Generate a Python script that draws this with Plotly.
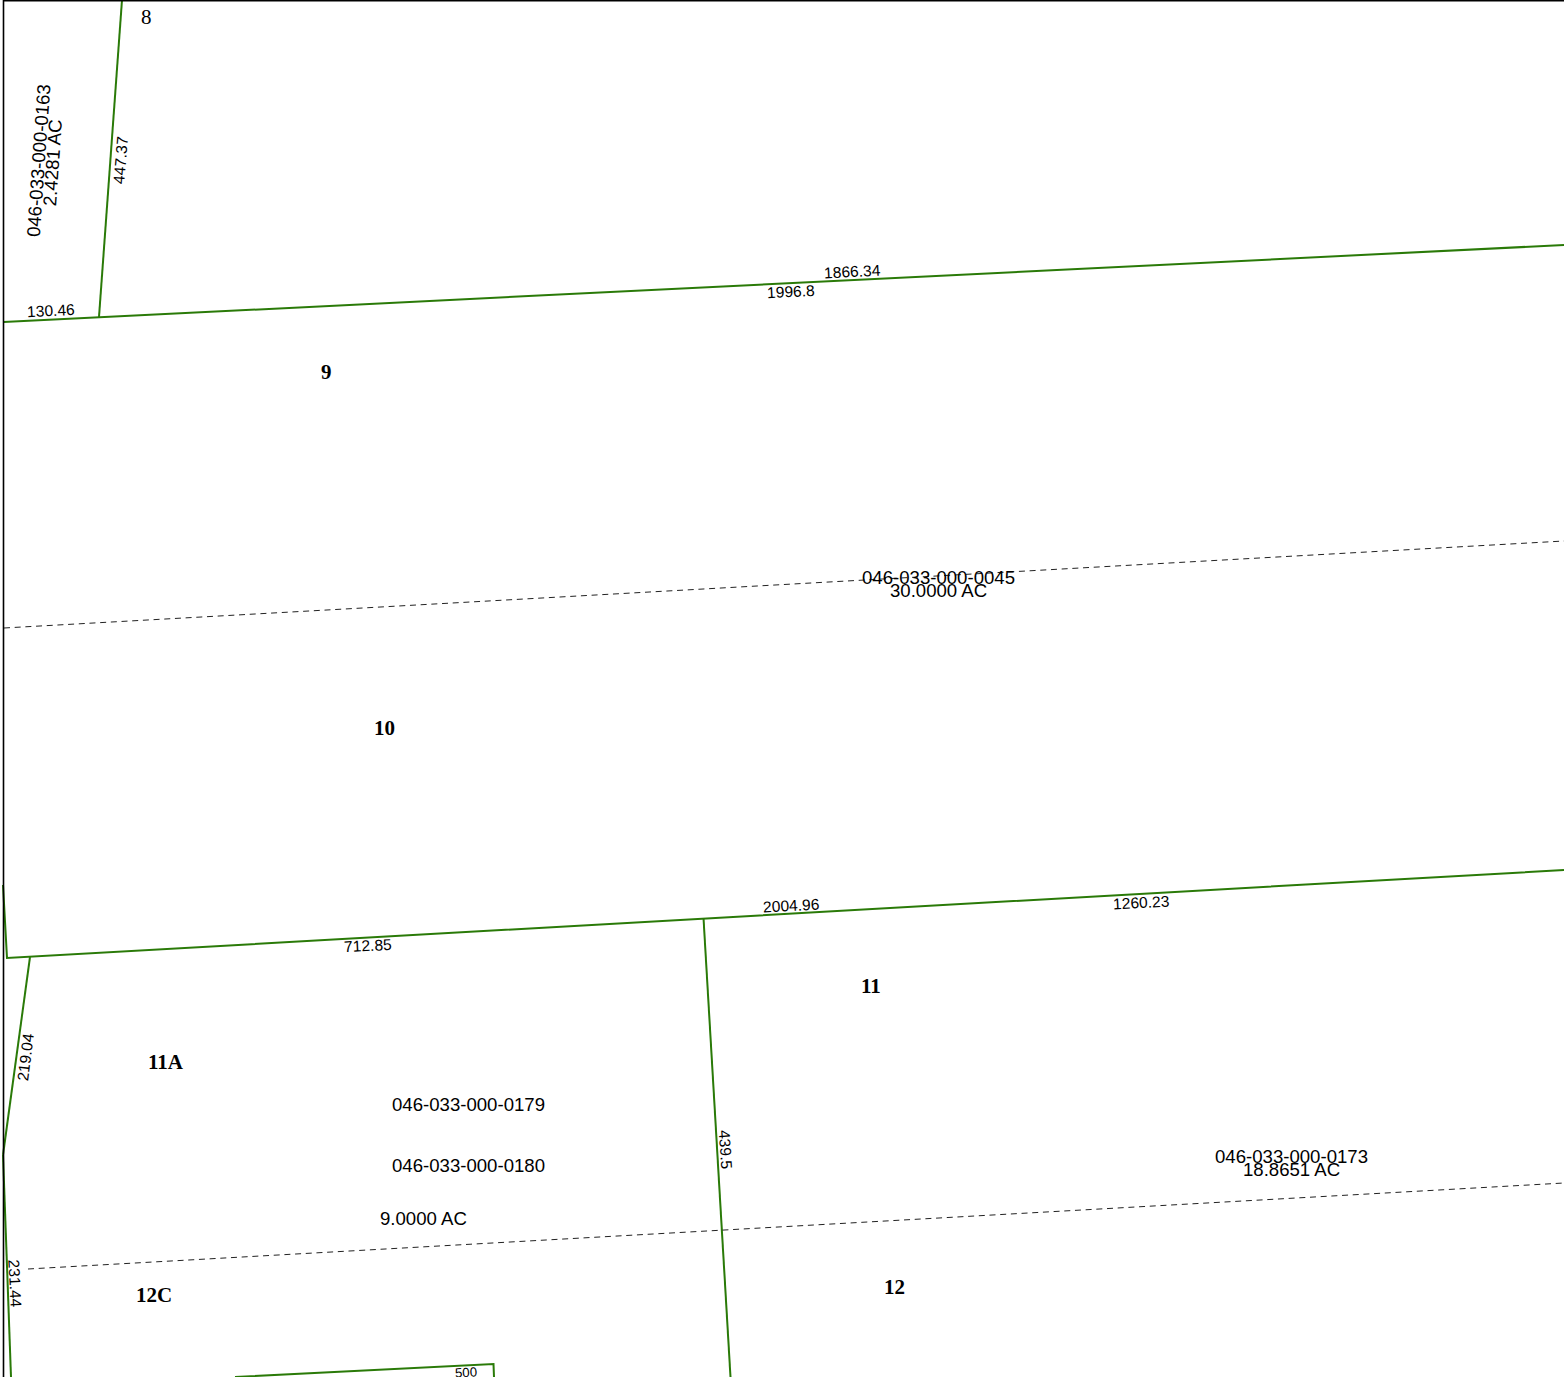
import plotly.graph_objects as go

# Parcel boundaries (map units = image pixels)
green_lines = [
    ([122, 99], [0, 317]),
    ([3.5, 1564], [322, 245]),
    ([3, 7, 1564], [885, 958, 870]),
    ([30, 3], [957, 1155]),
    ([703.5, 730.5], [918, 1377]),
    ([3, 11], [1155, 1377]),
    ([235, 493.5, 494], [1377, 1364, 1377]),
]
dashed_lines = [
    ([4, 1564], [628, 541]),
    ([28, 1564], [1269, 1183]),
]
border_x = [3.5, 3.5, 1564]
border_y = [1377, 0.7, 0.7]

# Parcel id / acreage labels: text, x, y, angle
parcel_text = ["046-033-000-0163", "2.4281 AC", "046-033-000-0045", "30.0000 AC",
               "046-033-000-0179", "046-033-000-0180", "9.0000 AC",
               "046-033-000-0173", "18.8651 AC"]
parcel_x = [38, 52, 938, 938, 468, 468, 423, 1291.5, 1291.5]
parcel_y = [161, 163, 577, 590, 1104, 1165, 1218, 1156, 1169.5]
parcel_angle = [-86, -86, 0, 0, 0, 0, 0, 0, 0]

# Segment length labels
length_text = ["447.37", "130.46", "1866.34", "1996.8", "2004.96", "1260.23",
               "712.85", "219.04", "439.5", "231.44", "500"]
length_x = [120, 51, 852, 791, 791, 1141, 368, 25, 726, 15.5, 466]
length_y = [160, 310.5, 271.5, 291.5, 905.5, 902.5, 945, 1057, 1149, 1283, 1372.5]
length_angle = [-85, -3, -3, -3, -3, -3, -3, -83, 86, 87, -3]
length_size = [15.6, 15.6, 15.6, 15.6, 15.6, 15.6, 15.6, 15.6, 15.6, 15.6, 13.2]

# Lot numbers
lot_text = ["8", "9", "10", "11", "11A", "12", "12C"]
lot_x = [146, 326, 384.5, 871, 166, 894, 154]
lot_y = [16.5, 371.5, 727.5, 986, 1061.5, 1286.5, 1294.5]
lot_bold = [False, True, True, True, True, True, True]

fig = go.Figure()
for xs, ys in green_lines:
    fig.add_trace(go.Scatter(x=xs, y=ys, mode="lines", line=dict(color="#2a7a08", width=2),
                             hoverinfo="skip", showlegend=False))
for xs, ys in dashed_lines:
    fig.add_trace(go.Scatter(x=xs, y=ys, mode="lines",
                             line=dict(color="#222222", width=1, dash="6px,4.7px"),
                             hoverinfo="skip", showlegend=False))
fig.add_trace(go.Scatter(x=border_x, y=border_y, mode="lines", line=dict(color="#000000", width=1.6),
                         hoverinfo="skip", showlegend=False))

def label(text, x, y, angle, family, size, bold=False):
    fig.add_annotation(x=x, y=y, xref="x", yref="y", text=f"<b>{text}</b>" if bold else text,
                       showarrow=False, textangle=angle, xanchor="center", yanchor="middle",
                       font=dict(family=family, size=size, color="#000000"),
                       borderpad=0, borderwidth=0)

for t, x, y, a in zip(parcel_text, parcel_x, parcel_y, parcel_angle):
    label(t, x, y, a, "Liberation Sans", 18.6)
for t, x, y, a, s in zip(length_text, length_x, length_y, length_angle, length_size):
    label(t, x, y, a, "Liberation Sans", s)
for t, x, y, b in zip(lot_text, lot_x, lot_y, lot_bold):
    label(t, x, y, 0, "Liberation Serif", 21, b)

fig.update_layout(
    width=1564, height=1377, margin=dict(l=0, r=0, t=0, b=0),
    paper_bgcolor="#ffffff", plot_bgcolor="#ffffff", showlegend=False,
    xaxis=dict(range=[0, 1564], visible=False, fixedrange=True),
    yaxis=dict(range=[1377, 0], visible=False, fixedrange=True),
)
fig.write_html("out.html", config={"displayModeBar": False},
               post_script="document.body.style.margin='0';")
